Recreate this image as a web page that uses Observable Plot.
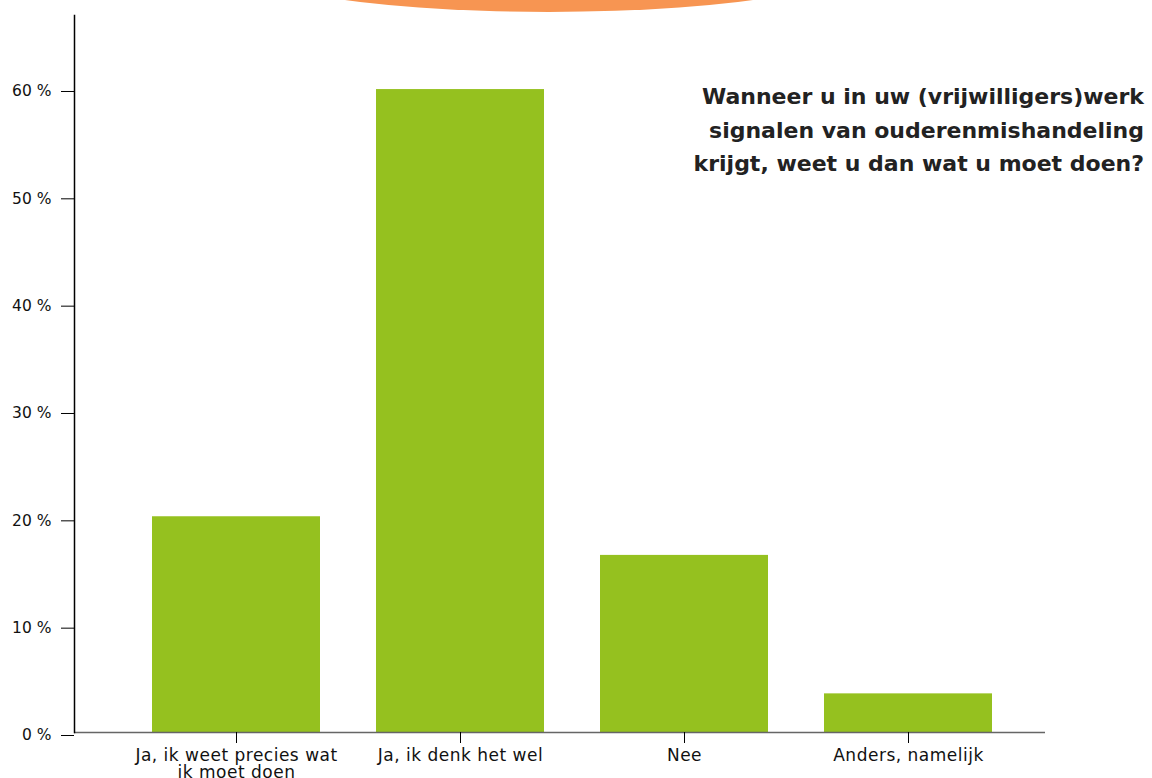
<!DOCTYPE html>
<html>
<head>
<meta charset="utf-8">
<script src="https://cdn.jsdelivr.net/npm/d3@7"></script>
<script src="https://cdn.jsdelivr.net/npm/@observablehq/plot@0.6"></script>
<style>
  html, body { margin: 0; padding: 0; background: #fff; }
  #wrap { position: relative; width: 1152px; height: 778px; overflow: hidden; }
  #chart svg { display: block; }
  #arc { position: absolute; left: 209px; top: -108px; width: 680px; height: 120px; border-radius: 50%; background: #F79552; }
  #title { position: absolute; right: 8px; top: 80px; text-align: right; font-family: "DejaVu Sans", sans-serif; font-weight: bold; font-size: 22px; line-height: 33.5px; color: #222; }
  .xax text { letter-spacing: 0.5px; }
</style>
</head>
<body>
<div id="wrap">
  <div id="chart"></div>
  <div id="arc"></div>
  <div id="title">Wanneer u in uw (vrijwilligers)werk<br>signalen van ouderenmishandeling<br>krijgt, weet u dan wat u moet doen?</div>
</div>
<script>
const categories = ["Ja, ik weet precies wat\nik moet doen", "Ja, ik denk het wel", "Nee", "Anders, namelijk"];
const values = [20.1, 59.9, 16.5, 3.6];
const yTicks = [0, 10, 20, 30, 40, 50, 60];

const data = categories.map((c, i) => ({category: c, value: values[i]}));

const chart = Plot.plot({
  width: 1152,
  height: 778,
  marginLeft: 74,
  marginRight: 107,
  marginTop: 15,
  marginBottom: 46,
  style: {fontFamily: "DejaVu Sans, sans-serif", fontSize: "15px", color: "#111", background: "#fff"},
  x: {domain: categories, range: [124, 1020], paddingInner: 0.25, paddingOuter: 0.125, label: null},
  y: {domain: [0, 66.8], label: null},
  marks: [
    Plot.barY(data, {x: "category", y: "value", fill: "#95C11F"}),
    Plot.ruleY([0], {stroke: "#666", strokeWidth: 1.5}),
    Plot.frame({anchor: "left", stroke: "#000", strokeWidth: 1.5}),
    Plot.axisY({ticks: yTicks, tickFormat: d => d + " %", tickSize: 13, tickPadding: 10, tickWidth: 2.5, stroke: "#000", fontSize: 15.5, dy: 3, fill: "#111"}),
    Plot.axisX({tickSize: 11, tickPadding: 5, tickWidth: 2.5, stroke: "#000", fontSize: 17, lineHeight: 1.0, fill: "#111", className: "xax"})
  ]
});
document.getElementById("chart").appendChild(chart);
</script>
</body>
</html>
